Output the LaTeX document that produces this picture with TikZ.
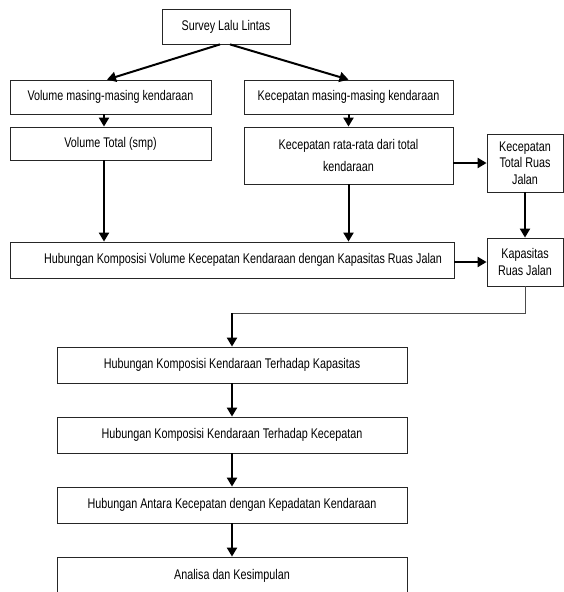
\documentclass[tikz,border=0pt]{standalone}
\usepackage{fontspec}
\setmainfont{Liberation Sans}[FakeStretch=0.77]
\usetikzlibrary{arrows.meta}

\begin{document}
\begin{tikzpicture}[x=1pt, y=-1pt, every node/.style={rectangle, draw=black!85, line width=0.8pt, inner sep=0pt, align=center, font=\fontsize{14}{16.5}\selectfont}, >={Triangle[length=9pt, width=10pt]}, arr/.style={->, line width=2pt}]
        \useasboundingbox (0, 0) rectangle (564, 592);
        \node[minimum width=128, minimum height=35] (survey) at (226, 26.5) {Survey Lalu Lintas};
        \node[minimum width=201, minimum height=34] (vm) at (110.5, 97) {Volume masing-masing kendaraan};
        \node[minimum width=209, minimum height=34] (km) at (348.5, 97) {Kecepatan masing-masing kendaraan};
        \node[minimum width=201, minimum height=33] (vt) at (110.5, 143.5) {Volume Total (smp)};
        \node[minimum width=209, minimum height=57] (kr) at (348.5, 155.5) {Kecepatan rata-rata dari total\\[5pt]kendaraan};
        \node[minimum width=76, minimum height=58] (kt) at (525, 163) {Kecepatan\\Total Ruas\\Jalan};
        \node[minimum width=444, minimum height=36] (hub) at (232, 260) {\hspace*{22pt}Hubungan Komposisi Volume Kecepatan Kendaraan dengan Kapasitas Ruas Jalan};
        \node[minimum width=76, minimum height=48] (kap) at (525, 262) {Kapasitas\\Ruas Jalan};
        \node[minimum width=350, minimum height=36] (b1) at (232, 365) {Hubungan Komposisi Kendaraan Terhadap Kapasitas};
        \node[minimum width=350, minimum height=36] (b2) at (232, 435) {Hubungan Komposisi Kendaraan Terhadap Kecepatan};
        \node[minimum width=350, minimum height=36] (b3) at (232, 505) {Hubungan Antara Kecepatan dengan Kepadatan Kendaraan};
        \node[minimum width=350, minimum height=38] (b4) at (232, 576) {Analisa dan Kesimpulan};
        \coordinate (bend) at (232, 313);
        \draw[arr] ([xshift=-6pt]survey.south) -- ([xshift=-3.5pt]vm.north);
        \draw[arr] ([xshift=4pt]survey.south) -- (km.north);
        \draw[arr] ([xshift=-6.5pt]vm.south) -- ([xshift=-6.5pt]vt.north);
        \draw[arr] (km.south) -- (kr.north);
        \draw[arr] ([xshift=-6.5pt]vt.south) -- ([xshift=-6.5pt]vt.south |- hub.north);
        \draw[arr] (kr.south) -- (kr.south |- hub.north);
        \draw[arr] (kr.east |- kt.west) -- (kt.west);
        \draw[arr] (kt.south) -- (kap.north);
        \draw[arr] (hub.east |- kap.west) -- (kap.west);
        \draw[line width=0.8pt, black!70] (kap.south) |- (bend);
        \draw[arr] (bend) -- (b1.north);
        \draw[arr] (b1) -- (b2);
        \draw[arr] (b2) -- (b3);
        \draw[arr] (b3) -- (b4);
    \end{tikzpicture}
\end{document}
